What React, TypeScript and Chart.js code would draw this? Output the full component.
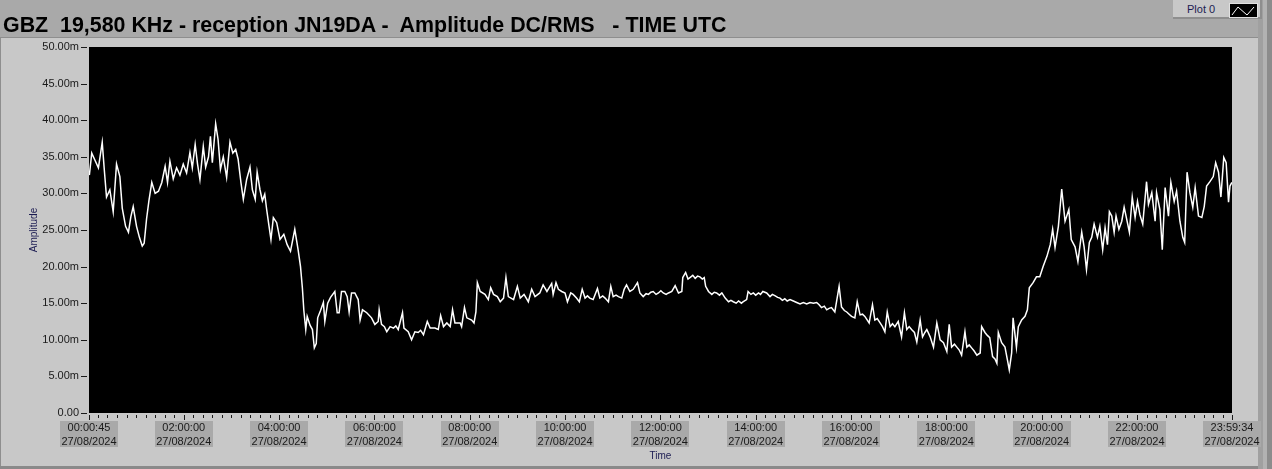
import React, { useEffect, useRef } from "react";
import { Chart, registerables } from "chart.js";

Chart.register(...registerables);

const TITLE = "GBZ  19,580 KHz - reception JN19DA -  Amplitude DC/RMS   - TIME UTC";
const LEGEND_LABEL = "Plot 0";
const DATE_LABEL = "27/08/2024";
const X_TITLE = "Time";
const Y_TITLE = "Amplitude";
const START_SECONDS = 45; // 00:00:45
const END_SECONDS = 86374; // 23:59:34
const LABELLED_HOURS = [2, 4, 6, 8, 10, 12, 14, 16, 18, 20, 22];
const Y_MIN = 0;
const Y_MAX = 50;
const Y_STEP = 5;

// [hour UTC, amplitude in milli-units]
const nightAndMorning: [number, number][] = [
  [0.02, 32.5], [0.07, 35.5], [0.14, 34.5], [0.21, 33.5], [0.29, 37.0], [0.33, 33.5], [0.38, 29.5], [0.45, 30.5],
  [0.52, 27.5], [0.59, 34.0], [0.66, 32.3], [0.71, 28.0], [0.78, 25.5], [0.84, 24.7], [0.89, 26.8], [0.94, 28.2],
  [1.01, 25.5], [1.07, 24.0], [1.13, 22.8], [1.17, 23.2], [1.22, 26.5], [1.27, 29.0], [1.33, 31.5], [1.40, 30.0],
  [1.47, 30.3], [1.54, 31.5], [1.61, 33.7], [1.66, 31.5], [1.71, 34.4], [1.78, 32.0], [1.85, 33.5], [1.92, 32.5],
  [1.99, 34.0], [2.06, 32.8], [2.13, 35.6], [2.18, 33.5], [2.24, 36.7], [2.29, 34.0], [2.34, 31.9], [2.41, 36.4],
  [2.46, 33.6], [2.52, 35.0], [2.56, 37.8], [2.60, 34.2], [2.67, 39.5], [2.72, 37.4], [2.77, 33.3], [2.83, 35.0],
  [2.90, 32.2], [2.97, 37.0], [3.03, 35.5], [3.09, 36.0], [3.14, 34.7], [3.20, 31.5], [3.25, 29.2], [3.32, 31.9],
  [3.39, 33.6], [3.44, 30.5], [3.50, 29.2], [3.54, 32.9], [3.60, 30.5], [3.65, 29.0], [3.70, 29.9], [3.74, 27.8],
  [3.79, 25.5], [3.83, 23.7], [3.88, 26.7], [3.95, 26.0], [4.02, 23.7], [4.10, 24.4], [4.17, 23.0], [4.24, 22.1],
  [4.33, 25.1], [4.40, 22.3], [4.45, 20.0], [4.49, 17.0], [4.52, 14.0], [4.56, 11.4], [4.59, 13.2], [4.65, 12.0],
  [4.70, 11.4], [4.74, 8.9], [4.78, 9.5], [4.81, 13.0], [4.87, 14.0], [4.93, 15.1], [4.96, 12.5], [5.02, 15.0],
  [5.08, 15.8], [5.17, 16.6],
];

const morningLow: [number, number][] = [
  [5.22, 13.7], [5.26, 13.7], [5.31, 16.6], [5.38, 16.6], [5.43, 15.9], [5.47, 13.8], [5.52, 16.4], [5.59, 16.4],
  [5.66, 15.5], [5.70, 12.7], [5.75, 14.1], [5.84, 13.7], [5.94, 13.0], [6.01, 12.1], [6.08, 12.5], [6.10, 14.1],
  [6.15, 12.1], [6.21, 11.8], [6.26, 11.1], [6.33, 11.8], [6.40, 11.6], [6.45, 11.9], [6.50, 11.4], [6.59, 13.7],
  [6.62, 11.6], [6.71, 11.1], [6.78, 10.0], [6.85, 11.1], [6.92, 11.0], [6.97, 11.3], [7.03, 10.7], [7.11, 12.5],
  [7.17, 11.6], [7.27, 11.6], [7.34, 11.4], [7.39, 13.3], [7.45, 11.8], [7.52, 12.3], [7.59, 11.8], [7.64, 14.1],
  [7.69, 12.3], [7.80, 12.3], [7.83, 11.8], [7.89, 14.4], [7.94, 13.0], [8.04, 12.7], [8.09, 12.3], [8.13, 13.8],
  [8.16, 17.8], [8.22, 16.6], [8.32, 16.2], [8.39, 15.5], [8.44, 17.1], [8.50, 16.2], [8.58, 15.9], [8.64, 15.2],
  [8.71, 15.7], [8.76, 18.5], [8.81, 15.9], [8.92, 15.5], [9.00, 17.3], [9.06, 15.7], [9.14, 16.2], [9.23, 15.2],
  [9.30, 16.9], [9.37, 15.9], [9.47, 16.4], [9.54, 17.5], [9.62, 16.6],
];

const middayPlateau: [number, number][] = [
  [9.72, 17.7], [9.75, 16.2], [9.81, 17.8], [9.86, 16.9], [9.93, 16.6], [10.00, 16.4], [10.05, 15.2], [10.12, 16.4],
  [10.17, 16.2], [10.24, 15.7], [10.30, 15.2], [10.36, 16.9], [10.42, 15.7], [10.47, 16.0], [10.52, 15.7], [10.59, 15.5],
  [10.68, 17.0], [10.73, 15.7], [10.79, 16.0], [10.84, 15.7], [10.91, 15.2], [10.96, 17.3], [11.01, 15.9], [11.07, 16.1],
  [11.12, 15.9], [11.19, 15.7], [11.24, 16.9], [11.29, 17.5], [11.36, 16.6], [11.43, 16.9], [11.52, 17.8], [11.57, 16.4],
  [11.64, 15.9], [11.70, 16.3], [11.75, 16.2], [11.80, 16.5], [11.85, 16.6], [11.91, 16.2], [11.96, 16.4], [12.01, 16.7],
  [12.06, 16.4], [12.12, 16.2], [12.17, 16.4], [12.24, 16.6], [12.31, 17.4], [12.38, 16.4], [12.45, 16.6], [12.47, 18.5],
  [12.53, 19.2], [12.58, 18.3], [12.62, 18.5], [12.68, 18.8], [12.73, 18.4], [12.78, 18.7], [12.83, 18.6], [12.88, 18.3],
  [12.92, 18.5], [12.95, 17.3], [13.01, 16.6], [13.08, 16.2], [13.13, 16.5], [13.18, 16.4], [13.24, 16.1], [13.29, 16.4],
  [13.36, 15.7], [13.43, 15.2], [13.48, 15.4], [13.53, 15.2], [13.59, 15.0], [13.64, 15.3], [13.70, 15.0], [13.74, 15.2],
  [13.81, 15.5], [13.84, 16.6], [13.90, 16.2], [13.95, 16.4], [14.00, 16.1], [14.06, 16.4], [14.10, 16.2], [14.15, 16.6],
  [14.23, 16.4], [14.30, 15.9], [14.35, 16.2], [14.41, 16.0], [14.46, 15.8], [14.51, 15.7], [14.56, 15.4], [14.61, 15.6],
  [14.66, 15.3], [14.72, 15.5],
];

const afternoonDecline: [number, number][] = [
  [14.79, 15.3], [14.86, 15.1], [14.93, 14.9], [15.00, 15.1], [15.07, 14.9], [15.14, 15.1], [15.21, 15.0], [15.28, 15.1],
  [15.33, 14.8], [15.38, 14.4], [15.44, 14.6], [15.49, 14.1], [15.54, 14.3], [15.59, 14.4], [15.66, 13.8], [15.75, 17.3],
  [15.80, 14.5], [15.86, 14.0], [15.91, 13.8], [15.96, 13.5], [16.01, 13.2], [16.08, 13.0], [16.13, 15.2], [16.19, 13.4],
  [16.24, 13.5], [16.29, 13.2], [16.38, 12.3], [16.45, 14.8], [16.50, 12.7], [16.55, 12.9], [16.61, 12.3], [16.66, 11.8],
  [16.71, 11.1], [16.76, 13.8], [16.82, 11.8], [16.87, 12.2], [16.92, 11.8], [16.99, 12.5], [17.06, 10.4], [17.12, 13.7],
  [17.17, 11.4], [17.22, 11.8], [17.27, 11.4], [17.33, 11.0], [17.38, 9.7], [17.45, 12.7], [17.50, 10.4], [17.55, 11.0],
  [17.59, 11.4], [17.66, 10.4], [17.73, 9.0], [17.80, 12.3], [17.87, 10.0], [17.94, 9.6], [18.01, 8.4], [18.06, 12.1],
  [18.11, 9.0], [18.17, 9.4], [18.22, 9.0], [18.27, 8.6], [18.32, 7.9], [18.39, 11.1], [18.43, 9.0], [18.48, 9.3],
  [18.53, 8.9], [18.58, 8.5], [18.64, 7.9], [18.71, 8.2], [18.74, 11.8], [18.81, 11.0], [18.86, 10.6], [18.91, 10.3],
  [18.97, 7.7], [19.02, 7.4], [19.06, 6.8], [19.09, 11.0], [19.16, 9.6], [19.23, 9.0], [19.28, 7.3], [19.32, 5.9],
  [19.37, 8.2], [19.40, 13.0], [19.47, 9.0], [19.51, 11.8], [19.58, 12.7], [19.65, 13.2], [19.70, 14.1], [19.74, 17.1],
];

const eveningRise: [number, number][] = [
  [19.82, 17.8], [19.89, 18.6], [19.96, 18.6], [20.03, 20.0], [20.11, 21.4], [20.18, 23.0], [20.23, 25.1], [20.28, 22.6],
  [20.35, 25.5], [20.42, 30.6], [20.49, 26.2], [20.57, 27.8], [20.62, 23.7], [20.70, 22.7], [20.76, 20.7], [20.84, 24.7],
  [20.89, 22.7], [20.94, 19.6], [21.00, 23.3], [21.05, 24.0], [21.10, 25.8], [21.17, 24.0], [21.22, 25.5], [21.28, 22.3],
  [21.33, 25.3], [21.38, 23.0], [21.42, 27.5], [21.47, 26.9], [21.52, 24.7], [21.56, 26.9], [21.62, 25.1], [21.68, 26.2],
  [21.73, 28.1], [21.77, 26.9], [21.84, 24.7], [21.90, 29.5], [21.96, 26.7], [22.01, 28.9], [22.06, 27.1], [22.12, 25.8],
  [22.20, 31.6], [22.24, 28.5], [22.31, 30.1], [22.38, 26.2], [22.41, 30.1], [22.48, 27.8], [22.53, 22.3], [22.59, 30.8],
  [22.66, 26.9], [22.71, 31.5], [22.78, 28.9], [22.83, 30.3], [22.90, 26.2], [22.96, 24.0], [23.00, 23.3], [23.05, 32.9],
  [23.11, 30.1], [23.17, 28.1], [23.22, 30.8], [23.29, 26.9], [23.36, 26.7], [23.41, 28.2], [23.46, 31.0], [23.53, 31.6],
  [23.60, 32.3], [23.65, 34.2], [23.71, 32.9], [23.76, 29.5], [23.82, 34.9], [23.87, 34.2], [23.92, 28.8], [23.95, 31.0],
  [23.99, 31.5],
];

const SEGMENTS = [nightAndMorning, morningLow, middayPlateau, afternoonDecline, eveningRise];

const pad2 = (n: number) => String(n).padStart(2, "0");
function formatTime(hours: number): string {
  const s = Math.round(hours * 3600);
  return `${pad2(Math.floor(s / 3600))}:${pad2(Math.floor((s % 3600) / 60))}:${pad2(s % 60)}`;
}

const TEXT_COLOR = "#1a1a1a";
const NAVY = "#1c1c52";
const FONT = "'Liberation Sans', Arial, sans-serif";
const TICK_FONT_SIZE = 11;
const X_LABEL_PADDING = 8;
const X_LABEL_LINE = 14;

const plotBackground = {
  id: "plotBackground",
  beforeDraw(chart: any) {
    const { ctx, chartArea, scales } = chart;
    ctx.save();
    ctx.fillStyle = "#000000";
    ctx.fillRect(chartArea.left, chartArea.top, chartArea.right - chartArea.left, chartArea.bottom - chartArea.top);
    // grey boxes behind the time axis labels (labels themselves are drawn by the scale)
    const x = scales.x;
    ctx.font = `${TICK_FONT_SIZE}px ${FONT}`;
    ctx.fillStyle = "#a9a9a9";
    const boxTop = chartArea.bottom + X_LABEL_PADDING;
    x.ticks.forEach((t: any) => {
      const lines = [formatTime(t.value), DATE_LABEL];
      const w = Math.max(...lines.map((l) => ctx.measureText(l).width)) + 3;
      const px = x.getPixelForValue(t.value);
      ctx.fillRect(Math.round(px - w / 2), boxTop, Math.round(w), X_LABEL_LINE * lines.length - 2);
    });
    ctx.restore();
  },
};

const axisMarks = {
  id: "axisMarks",
  afterDraw(chart: any) {
    const { ctx, chartArea, scales } = chart;
    const x = scales.x;
    const y = scales.y;
    ctx.save();
    ctx.strokeStyle = TEXT_COLOR;
    ctx.lineWidth = 1;
    ctx.beginPath();
    y.ticks.forEach((t: any) => {
      const py = Math.round(y.getPixelForValue(t.value)) + 0.5;
      ctx.moveTo(chartArea.left - 8, py);
      ctx.lineTo(chartArea.left - 2, py);
    });
    const top = chartArea.bottom + 2;
    const marks: { v: number; major: boolean }[] = [];
    marks.push({ v: START_SECONDS / 3600, major: true });
    for (let m = 12; m < 24 * 60; m += 12) {
      const h = m / 60;
      if (h > END_SECONDS / 3600) break;
      marks.push({ v: h, major: m % 120 === 0 });
    }
    marks.push({ v: END_SECONDS / 3600, major: true });
    marks.forEach(({ v, major }) => {
      const px = Math.round(x.getPixelForValue(v)) + 0.5;
      ctx.moveTo(px, top);
      ctx.lineTo(px, top + (major ? 5 : 3));
    });
    ctx.stroke();
    ctx.restore();
  },
};

export default function App() {
  const canvasRef = useRef<HTMLCanvasElement | null>(null);

  useEffect(() => {
    const canvas = canvasRef.current;
    if (!canvas) return;
    const points = SEGMENTS.flat().map(([h, v]) => ({ x: h, y: v }));
    const chart = new Chart(canvas, {
      type: "line",
      data: {
        datasets: [
          {
            label: LEGEND_LABEL,
            data: points,
            borderColor: "#ffffff",
            borderWidth: 1.5,
            pointRadius: 0,
            tension: 0,
            fill: false,
          },
        ],
      },
      options: {
        animation: false,
        responsive: false,
        devicePixelRatio: 1,
        layout: { padding: { left: 0, top: 47, right: 40, bottom: 0 } },
        plugins: { legend: { display: false }, tooltip: { enabled: false }, title: { display: false } },
        scales: {
          x: {
            type: "linear",
            min: START_SECONDS / 3600,
            max: END_SECONDS / 3600,
            afterBuildTicks: (scale: any) => {
              scale.ticks = [START_SECONDS / 3600, ...LABELLED_HOURS, END_SECONDS / 3600].map((value) => ({ value }));
            },
            afterFit: (scale: any) => {
              scale.height = 56;
            },
            grid: { display: false, drawTicks: false },
            border: { display: false },
            ticks: {
              autoSkip: false,
              maxRotation: 0,
              minRotation: 0,
              padding: X_LABEL_PADDING,
              color: TEXT_COLOR,
              font: { family: FONT, size: TICK_FONT_SIZE, lineHeight: X_LABEL_LINE / TICK_FONT_SIZE },
              callback: (value: any) => [formatTime(Number(value)), DATE_LABEL],
            },
            title: {
              display: true,
              text: X_TITLE,
              color: NAVY,
              font: { family: FONT, size: 10 },
              padding: { top: 0, bottom: 7 },
            },
          },
          y: {
            min: Y_MIN,
            max: Y_MAX,
            afterFit: (scale: any) => {
              scale.width = 89;
            },
            grid: { display: false, drawTicks: false },
            border: { display: false },
            ticks: {
              stepSize: Y_STEP,
              padding: 10,
              color: TEXT_COLOR,
              font: { family: FONT, size: TICK_FONT_SIZE },
              callback: (value: any) => (Number(value) === 0 ? "0.00" : `${Number(value).toFixed(2)}m`),
            },
            title: {
              display: true,
              text: Y_TITLE,
              color: NAVY,
              font: { family: FONT, size: 10 },
              padding: { top: 28, bottom: 0 },
            },
          },
        },
      },
      plugins: [plotBackground, axisMarks],
    });
    return () => chart.destroy();
  }, []);

  return (
    <div style={{ position: "fixed", left: 0, top: 0, width: 1272, height: 469, overflow: "hidden", background: "#c8c8c8" }}>
      <div style={{ position: "absolute", left: 0, top: 0, width: 1272, height: 37, background: "#a9a9a9" }} />
      <div style={{ position: "absolute", left: 0, top: 37, width: 1258, height: 1, background: "#8e8e8e" }} />
      <div style={{ position: "absolute", left: 0, top: 37, width: 1, height: 432, background: "#8e8e8e" }} />
      <div style={{ position: "absolute", left: 0, top: 466, width: 1258, height: 3, background: "#8a8a8a" }} />
      <div style={{ position: "absolute", left: 1258, top: 0, width: 5, height: 469, background: "#a0a0a0" }} />
      <div style={{ position: "absolute", left: 1263, top: 0, width: 4, height: 469, background: "#b2b2b2" }} />
      <div style={{ position: "absolute", left: 1267, top: 0, width: 5, height: 469, background: "#8c8c8c" }} />
      <canvas ref={canvasRef} width={1272} height={469} style={{ position: "absolute", left: 0, top: 0, width: 1272, height: 469 }} />
      <div
        style={{
          position: "absolute",
          left: 3,
          top: 12,
          fontFamily: FONT,
          fontWeight: "bold",
          fontSize: 21.4,
          lineHeight: "26px",
          whiteSpace: "pre",
          color: "#000000",
        }}
      >
        {TITLE}
      </div>
      <div
        style={{
          position: "absolute",
          left: 1173,
          top: 0,
          width: 89,
          height: 19,
          background: "#c8c8c8",
          borderBottom: "2px solid #8e8e8e",
          borderRight: "2px solid #8e8e8e",
          boxSizing: "border-box",
        }}
      >
        <span
          style={{
            position: "absolute",
            left: 14,
            top: 3,
            fontFamily: FONT,
            fontSize: 11,
            lineHeight: "13px",
            color: NAVY,
          }}
        >
          {LEGEND_LABEL}
        </span>
        <svg style={{ position: "absolute", left: 56, top: 3 }} width={29} height={15}>
          <rect x={0.5} y={0.5} width={28} height={14} fill="#000" stroke="#e0e0e0" />
          <polyline points="3,12 9,4 18,12 25,4" fill="none" stroke="#fff" strokeWidth={1} />
        </svg>
      </div>
    </div>
  );
}
